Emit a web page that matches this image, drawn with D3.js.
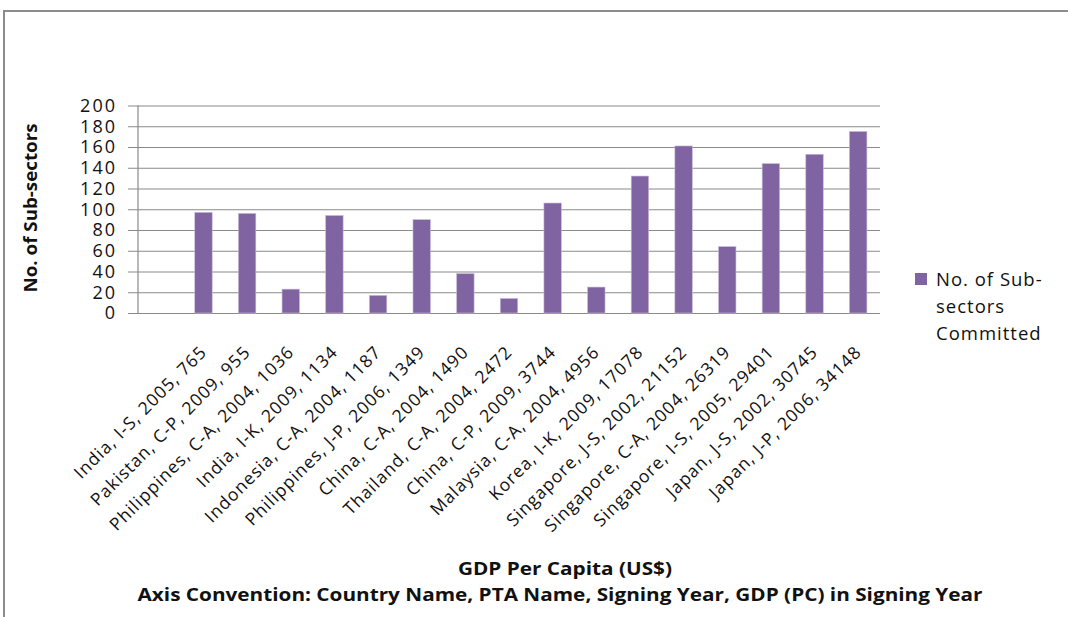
<!DOCTYPE html>
<html><head><meta charset="utf-8">
<script src="https://cdn.jsdelivr.net/npm/d3@7"></script>
<style>body{margin:0;background:#fff}svg{display:block}</style>
</head><body>
<script>
const categories = ["", "India, I-S, 2005, 765", "Pakistan, C-P, 2009, 955", "Philippines, C-A, 2004, 1036",
  "India, I-K, 2009, 1134", "Indonesia, C-A, 2004, 1187", "Philippines, J-P, 2006, 1349",
  "China, C-A, 2004, 1490", "Thailand, C-A, 2004, 2472", "China, C-P, 2009, 3744",
  "Malaysia, C-A, 2004, 4956", "Korea, I-K, 2009, 17078", "Singapore, J-S, 2002, 21152",
  "Singapore, C-A, 2004, 26319", "Singapore, I-S, 2005, 29401", "Japan, J-S, 2002, 30745",
  "Japan, J-P, 2006, 34148"];
const values = [null, 97, 96, 23, 94, 17, 90, 38, 14, 106, 25, 132, 161, 64, 144, 153, 175];
const yTicks = [0, 20, 40, 60, 80, 100, 120, 140, 160, 180, 200];
const seriesName = ["No. of Sub-", "sectors", "Committed"];
const xTitle = "GDP Per Capita (US$)";
const xSubtitle = "Axis Convention: Country Name, PTA Name, Signing Year, GDP (PC) in Signing Year";
const yTitle = "No. of Sub-sectors";

(function () {
const W = 1068, H = 617;
const font = "'Open Sans', sans-serif";
const svg = d3.select("body").append("svg").attr("width", W).attr("height", H);

// frame
svg.append("path").attr("d", `M4,${H} L4,11 L${W},11`).attr("fill", "none")
  .attr("stroke", "#8c8c8c").attr("stroke-width", 2);

const pL = 138, pR = 880, pT = 105.5, pB = 313;
const x = d3.scaleBand().domain(categories.map((d, i) => i)).range([pL, pR])
  .paddingInner(0.6).paddingOuter(0.3);
const y = d3.scaleLinear().domain([0, 200]).range([pB, pT]);

// gridlines + y ticks
const yAxis = svg.append("g").attr("transform", `translate(${pL},0)`)
  .call(d3.axisLeft(y).tickValues(yTicks).tickSize(-(pR - pL)).tickPadding(21).tickFormat(d3.format("d")));
yAxis.select(".domain").remove();
yAxis.selectAll(".tick line").attr("stroke", "#8a8a8a").attr("stroke-width", 1.2).attr("x1", -10);
yAxis.selectAll(".tick text").attr("font-family", font).attr("font-size", 18)
  .attr("letter-spacing", 2).attr("fill", "#111");

// vertical axis line
svg.append("line").attr("x1", pL).attr("x2", pL).attr("y1", pT).attr("y2", pB)
  .attr("stroke", "#8a8a8a").attr("stroke-width", 1.2);

// bars
svg.append("g").selectAll("rect").data(values.map((v, i) => ({v, i})).filter(d => d.v != null))
  .join("rect")
  .attr("x", d => x(d.i)).attr("width", x.bandwidth())
  .attr("y", d => y(d.v)).attr("height", d => y(0) - y(d.v))
  .attr("fill", "#8064A2").attr("stroke", "#c9bcdb").attr("stroke-width", 0.6);

// x labels
svg.append("g").selectAll("text").data(categories.map((c, i) => ({c, i})).filter(d => d.c))
  .join("text")
  .attr("transform", d => `translate(${x(d.i) + x.bandwidth() / 2},${pB + 36}) rotate(-45)`)
  .attr("text-anchor", "end").attr("dy", "0.35em")
  .attr("font-family", font).attr("font-size", 17.5).attr("letter-spacing", 1).attr("fill", "#111")
  .text(d => d.c);

// y title
svg.append("text").attr("transform", `translate(37,208) rotate(-90)`)
  .attr("text-anchor", "middle").attr("font-family", font).attr("font-size", 17.5)
  .attr("font-weight", "bold").attr("fill", "#111")
  .attr("textLength", 169).attr("lengthAdjust", "spacingAndGlyphs").text(yTitle);

// x titles
svg.append("text").attr("x", 565).attr("y", 575).attr("text-anchor", "middle")
  .attr("font-family", font).attr("font-size", 18.5).attr("font-weight", "bold").attr("fill", "#111")
  .attr("textLength", 214).attr("lengthAdjust", "spacingAndGlyphs").text(xTitle);
svg.append("text").attr("x", 560).attr("y", 601).attr("text-anchor", "middle")
  .attr("font-family", font).attr("font-size", 18.5).attr("font-weight", "bold").attr("fill", "#111")
  .attr("textLength", 845).attr("lengthAdjust", "spacingAndGlyphs").text(xSubtitle);

// legend
const lg = svg.append("g");
lg.append("rect").attr("x", 915).attr("y", 273).attr("width", 12).attr("height", 12).attr("fill", "#8064A2");
lg.append("text").attr("font-family", font).attr("font-size", 18.5).attr("letter-spacing", 1).attr("fill", "#111")
  .selectAll("tspan").data(seriesName).join("tspan")
  .attr("x", 936).attr("y", (d, i) => 286 + i * 27).text(d => d);
})();
</script>
</body></html>
